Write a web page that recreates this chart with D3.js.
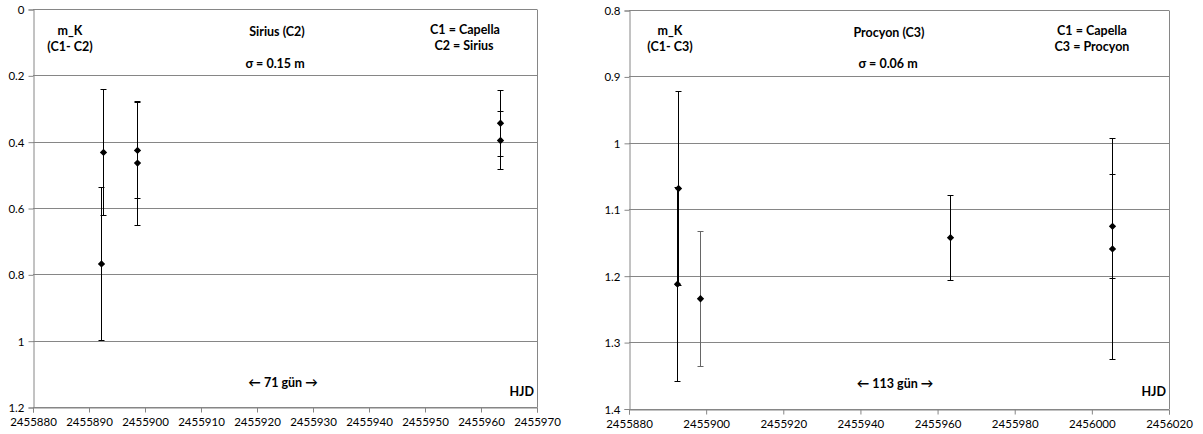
<!DOCTYPE html>
<html>
<head>
<meta charset="utf-8">
<script src="https://cdn.jsdelivr.net/npm/d3@7"></script>
<style>
  body { margin: 0; background: #fff; }
  svg { display: block; font-family: Lato, "Open Sans", sans-serif; }
  .tick text { font-size: 11.5px; fill: #000; }
  .lbl { font-weight: bold; font-size: 12.5px; fill: #000; }
</style>
</head>
<body>
<svg id="chart" width="1203" height="434"></svg>
<script>
// Sirius panel (C1 - C2)
var siriusHJD = [2455892.5, 2455892.3, 2455898.6, 2455898.6, 2455963.4, 2455963.4];
var siriusMag = [0.431, 0.767, 0.425, 0.463, 0.343, 0.395];
var siriusErr = [0.189, 0.231, 0.145, 0.187, 0.100, 0.088];
var siriusBarColor = ["#000", "#000", "#000", "#000", "#000", "#000"];
var siriusXTicks = [2455880, 2455890, 2455900, 2455910, 2455920, 2455930, 2455940, 2455950, 2455960, 2455970];
var siriusYTicks = [0, 0.2, 0.4, 0.6, 0.8, 1, 1.2];

// Procyon panel (C1 - C3)
var procyonHJD = [2455892.8, 2455892.6, 2455898.6, 2455963.3, 2456005.4, 2456005.4];
var procyonMag = [1.068, 1.212, 1.234, 1.142, 1.125, 1.159];
var procyonErr = [0.146, 0.146, 0.102, 0.064, 0.078, 0.166];
var procyonBarColor = ["#000", "#000", "#666", "#000", "#000", "#000"];
var procyonXTicks = [2455880, 2455900, 2455920, 2455940, 2455960, 2455980, 2456000, 2456020];
var procyonYTicks = [0.8, 0.9, 1, 1.1, 1.2, 1.3, 1.4];

var svg = d3.select("#chart");
var gridColor = "#868686";

function crisp(v) { return Math.round(v - 0.5) + 0.5 }

function panel(cfg) {
  var g = svg.append("g");
  var x = d3.scaleLinear().domain(cfg.xDomain).range([cfg.left, cfg.right]);
  var y = d3.scaleLinear().domain(cfg.yDomain).range([cfg.top, cfg.bottom]);

  // horizontal gridlines
  g.selectAll("line.grid").data(cfg.yTicks).enter().append("line")
    .attr("class", "grid")
    .attr("x1", cfg.left).attr("x2", cfg.right)
    .attr("y1", function(d) { return crisp(y(d)) })
    .attr("y2", function(d) { return crisp(y(d)) })
    .attr("stroke", gridColor).attr("stroke-width", 1);

  // right border
  g.append("line")
    .attr("x1", crisp(cfg.right)).attr("x2", crisp(cfg.right))
    .attr("y1", cfg.top).attr("y2", cfg.bottom)
    .attr("stroke", gridColor);

  var yAxis = g.append("g")
    .attr("transform", "translate(" + crisp(cfg.left) + ",0)")
    .call(d3.axisLeft(y).tickValues(cfg.yTicks).tickSize(5).tickPadding(4)
      .tickFormat(function(d) { return d3.format("~g")(d) }));
  var xAxis = g.append("g")
    .attr("transform", "translate(0," + crisp(cfg.bottom) + ")")
    .call(d3.axisBottom(x).tickValues(cfg.xTicks).tickSize(5).tickPadding(5)
      .tickFormat(d3.format("d")));
  [yAxis, xAxis].forEach(function(a) {
    a.selectAll(".domain").attr("stroke", gridColor);
    a.selectAll(".tick line").attr("stroke", gridColor);
    a.selectAll(".tick text").style("font-family", "Lato, sans-serif");
  });
  yAxis.selectAll(".tick text").attr("dy", "0.35em");

  // error bars
  var idx = d3.range(cfg.hjd.length);
  var capW = 3;
  idx.forEach(function(i) {
    var cx = crisp(x(cfg.hjd[i]));
    var y0 = crisp(y(cfg.mag[i] - cfg.err[i])), y1 = crisp(y(cfg.mag[i] + cfg.err[i]));
    var eb = g.append("g").attr("stroke", cfg.barColor[i]).attr("stroke-width", 1);
    eb.append("line").attr("x1", cx).attr("x2", cx).attr("y1", y0).attr("y2", y1);
    eb.append("line").attr("x1", cx - capW).attr("x2", cx + capW).attr("y1", y0).attr("y2", y0);
    eb.append("line").attr("x1", cx - capW).attr("x2", cx + capW).attr("y1", y1).attr("y2", y1);
  });

  // diamond markers
  g.selectAll("path.pt").data(idx).enter().append("path")
    .attr("class", "pt")
    .attr("d", d3.symbol().type(d3.symbolDiamond2).size(34))
    .attr("transform", function(i) { return "translate(" + crisp(x(cfg.hjd[i])) + "," + y(cfg.mag[i]) + ")" })
    .attr("fill", "#000");

  // labels
  cfg.labels.forEach(function(l) {
    g.append("text").attr("class", "lbl")
      .attr("x", l[0]).attr("y", l[1])
      .attr("text-anchor", l[3] || "middle")
      .attr("dy", "0.35em")
      .text(l[2]);
  });
}

panel({
  hjd: siriusHJD, mag: siriusMag, err: siriusErr, barColor: siriusBarColor,
  xDomain: [2455880, 2455970], yDomain: [0, 1.2],
  xTicks: siriusXTicks, yTicks: siriusYTicks,
  left: 33, right: 537, top: 9.5, bottom: 407.5,
  labels: [
    [70, 31, "m_K"], [70, 47, "(C1- C2)"],
    [277, 32, "Sirius  (C2)"], [275, 64, "σ = 0.15 m"],
    [465, 30, "C1 = Capella"], [464, 46, "C2 = Sirius"],
    [283, 383, "\u2190 71 gün \u2192"], [534, 392, "HJD", "end"]
  ]
});

panel({
  hjd: procyonHJD, mag: procyonMag, err: procyonErr, barColor: procyonBarColor,
  xDomain: [2455880, 2456020], yDomain: [0.8, 1.4],
  xTicks: procyonXTicks, yTicks: procyonYTicks,
  left: 629, right: 1169, top: 10.5, bottom: 409,
  labels: [
    [670, 31, "m_K"], [670, 47, "(C1- C3)"],
    [889, 33, "Procyon (C3)"], [888, 64, "σ = 0.06 m"],
    [1092, 31, "C1 = Capella"], [1092, 47, "C3 = Procyon"],
    [895, 384, "\u2190 113 gün \u2192"], [1166, 392, "HJD", "end"]
  ]
});
</script>
</body>
</html>
